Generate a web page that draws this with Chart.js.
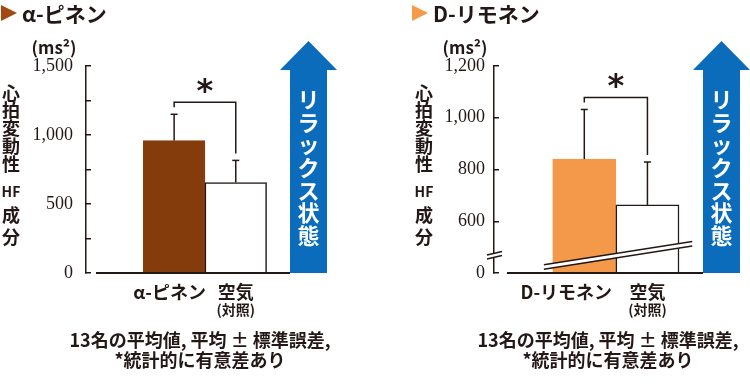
<!DOCTYPE html>
<html>
<head>
<meta charset="utf-8">
<script src="https://cdn.jsdelivr.net/npm/chart.js@4.4.1/dist/chart.umd.min.js"></script>
<style>
  body { margin: 0; background: #fff; }
  #wrap { position: relative; width: 750px; height: 385px; }
  canvas { position: absolute; top: 0; }
</style>
</head>
<body>
<div id="wrap">
  <canvas id="pinene" width="375" height="385" style="left:0"></canvas>
  <canvas id="limonene" width="375" height="385" style="left:375px"></canvas>
</div>

<script>
// α-ピネン vs 空気
const pineneLabels = ['α-ピネン', '空気'];
const pineneMean = [960, 656];
const pineneSE = [190, 160];
const pineneTicks = [0, 250, 500, 750, 1000, 1250, 1500];
const pineneTickLabels = ['0', '', '500', '', '1,000', '', '1,500'];

// D-リモネン vs 空気 (axis broken below 600, bottom shown as 0)
const limoneneLabels = ['D-リモネン', '空気'];
const limoneneMean = [840, 663];
const limoneneSE = [192, 166];
const limoneneTicks = [400, 600, 800, 1000, 1200];
const limoneneTickLabels = ['0', '600', '800', '1,000', '1,200'];

const yTitle = ['心', '拍', '変', '動', '性', 'HF', '成', '分'];
const arrowText = ['リ', 'ラ', 'ッ', 'ク', 'ス', '状', '態'];
const caption = ['13名の平均値, 平均 ± 標準誤差,', '*統計的に有意差あり'];

const INK = '#231815';
const JP = '"Noto Sans CJK JP", "Noto Sans", sans-serif';

function line(ctx, x1, y1, x2, y2) {
  ctx.beginPath(); ctx.moveTo(x1, y1); ctx.lineTo(x2, y2); ctx.stroke();
}
function text(ctx, s, x, y, font, color, align) {
  ctx.font = font; ctx.fillStyle = color || INK;
  ctx.textAlign = align || 'center'; ctx.textBaseline = 'middle';
  ctx.fillText(s, x, y);
}

const panelDeco = {
  id: 'panelDeco',
  afterDatasetsDraw(chart, args, p) {
    const {ctx, chartArea: a, scales: {x, y}} = chart;
    ctx.save();
    ctx.strokeStyle = INK;
    ctx.lineWidth = 1.5;

    // broken-axis marks
    if (p.brk) {
      const b = p.brk;
      const x1 = x.getPixelForValue(b.from[0]), y1 = y.getPixelForValue(b.from[1]);
      const x2 = x.getPixelForValue(b.to[0]), y2 = y.getPixelForValue(b.to[1]);
      ctx.strokeStyle = '#fff'; ctx.lineWidth = 4;
      line(ctx, x1, y1, x2, y2);
      ctx.strokeStyle = INK; ctx.lineWidth = 1.5;
      line(ctx, x1, y1 - 2.2, x2, y2 - 2.2);
      line(ctx, x1, y1 + 2.2, x2, y2 + 2.2);

      const ay = y.getPixelForValue(b.axisAt);
      ctx.fillStyle = '#fff';
      ctx.fillRect(a.left - 2, ay - 2, 4, 4);
      line(ctx, a.left - 7, ay - 0.5, a.left + 8, ay - 4);
      line(ctx, a.left - 7, ay + 3.5, a.left + 8, ay);
    }

    // x axis line (starts a little right of the y axis)
    ctx.lineWidth = 2;
    line(ctx, a.left + p.axisGap, a.bottom, a.right, a.bottom);

    // error bars
    ctx.lineWidth = 1.5;
    const bars = chart.getDatasetMeta(0).data;
    const tops = bars.map((bar, i) => {
      const t = y.getPixelForValue(p.mean[i] + p.se[i]);
      line(ctx, bar.x, bar.y, bar.x, t);
      line(ctx, bar.x - 3.5, t, bar.x + 3.5, t);
      return t;
    });

    // significance bracket
    const by = Math.min(...tops) - 12;
    ctx.beginPath();
    ctx.moveTo(bars[0].x, tops[0] - 7);
    ctx.lineTo(bars[0].x, by);
    ctx.lineTo(bars[1].x, by);
    ctx.lineTo(bars[1].x, tops[1] - 7);
    ctx.stroke();
    ctx.font = 'bold 32px "DejaVu Sans"';
    const m = ctx.measureText('*');
    ctx.fillStyle = INK; ctx.textAlign = 'center'; ctx.textBaseline = 'alphabetic';
    ctx.fillText('*', (bars[0].x + bars[1].x) / 2,
      by - 17 + (m.actualBoundingBoxAscent - m.actualBoundingBoxDescent) / 2);
    ctx.restore();
  },
  afterDraw(chart, args, p) {
    const {ctx, chartArea: a, scales: {x}} = chart;
    ctx.save();

    // title
    ctx.fillStyle = p.triColor;
    ctx.beginPath();
    ctx.moveTo(p.titleX, 5); ctx.lineTo(p.titleX, 21); ctx.lineTo(p.titleX + 16, 13);
    ctx.closePath(); ctx.fill();
    text(ctx, p.title, p.titleX + 21, 14, 'bold 21px ' + JP, INK, 'left');

    // unit
    text(ctx, '(ms²)', p.unitX, 48, 'bold 17px ' + JP);

    // vertical y title
    const rows = [93, 110.5, 128, 146, 164.5, 192, 215, 237];
    yTitle.forEach((c, i) => {
      text(ctx, c, p.yTitleX, rows[i], (c === 'HF' ? 'bold 14px ' : 'bold 18px ') + JP);
    });

    // control note under 空気
    text(ctx, '(対照)', x.getPixelForValue(2), 310, 'bold 14px ' + JP);

    // caption
    caption.forEach((s, i) => text(ctx, s, p.captionX, 340 + i * 20, 'bold 18px ' + JP));

    // relax arrow
    const bx = a.right, bw = 37, cx = bx + bw / 2;
    ctx.fillStyle = '#0b6cbc';
    ctx.beginPath();
    ctx.moveTo(bx, a.bottom);
    ctx.lineTo(bx, a.top + 4);
    ctx.lineTo(cx - 28.5, a.top + 4);
    ctx.lineTo(cx, a.top - 25);
    ctx.lineTo(cx + 28.5, a.top + 4);
    ctx.lineTo(bx + bw, a.top + 4);
    ctx.lineTo(bx + bw, a.bottom);
    ctx.closePath(); ctx.fill();
    arrowText.forEach((c, i) => text(ctx, c, cx, 99.5 + i * 22.7, 'bold 22px ' + JP, '#fff'));
    ctx.restore();
  }
};

function buildChart(id, p) {
  return new Chart(document.getElementById(id), {
    type: 'bar',
    data: {
      datasets: [{
        data: p.mean.map((v, i) => ({x: i + 1, y: v})),
        backgroundColor: p.colors,
        borderColor: p.borders,
        borderWidth: 1.5,
        barPercentage: 1,
        categoryPercentage: 1
      }]
    },
    options: {
      responsive: false,
      animation: false,
      layout: {padding: p.padding},
      plugins: {legend: {display: false}, tooltip: {enabled: false}, panelDeco: p},
      scales: {
        x: {
          type: 'linear', min: -0.43, max: 2.88, offset: false,
          afterBuildTicks: s => { s.ticks = p.labels.map((_, i) => ({value: i + 1})); },
          afterFit: s => { s.height = 40; },
          grid: {display: false, drawTicks: false},
          border: {display: false},
          ticks: {
            // trailing space nudges the first label left of its bar, like the original
            callback: (v, i) => i === 0 ? p.labels[i] + p.labelPad : p.labels[i],
            font: {family: JP, size: 18, weight: 'bold'},
            color: INK, padding: 8,
            maxRotation: 0, autoSkip: false
          }
        },
        y: {
          min: p.ticks[0], max: p.ticks[p.ticks.length - 1],
          afterBuildTicks: s => { s.ticks = p.ticks.map(v => ({value: v})); },
          afterFit: s => { s.width = 80; },
          grid: {drawOnChartArea: false, tickLength: -5, color: INK, lineWidth: 1.5},
          border: {color: INK, width: 1.5},
          ticks: {
            callback: (v, i) => p.tickLabels[i],
            font: {family: '"Liberation Serif", serif', size: 18},
            color: INK, padding: p.tickPad, autoSkip: false
          }
        }
      }
    },
    plugins: [panelDeco]
  });
}

buildChart('pinene', {
  labels: pineneLabels, mean: pineneMean, se: pineneSE,
  ticks: pineneTicks, tickLabels: pineneTickLabels,
  colors: ['#843c0c', '#ffffff'], borders: ['#843c0c', INK],
  padding: {left: 6, right: 85, top: 66, bottom: 72},
  tickPad: 18, labelPad: '\u2002', axisGap: 10,
  title: 'α-ピネン', titleX: 1, triColor: '#a3480f',
  yTitleX: 11, unitX: 54, captionX: 200
});

buildChart('limonene', {
  labels: limoneneLabels, mean: limoneneMean, se: limoneneSE,
  ticks: limoneneTicks, tickLabels: limoneneTickLabels,
  colors: ['#f4994a', '#ffffff'], borders: ['#f4994a', INK],
  padding: {left: 39, right: 47, top: 66, bottom: 72},
  tickPad: 14, labelPad: '\u3000\u3000', axisGap: 13,
  title: 'D-リモネン', titleX: 37, triColor: '#f59a48',
  yTitleX: 49, unitX: 90, captionX: 233,
  brk: {from: [0.36, 423], to: [2.71, 513], axisAt: 468}
});
</script>
</body>
</html>
